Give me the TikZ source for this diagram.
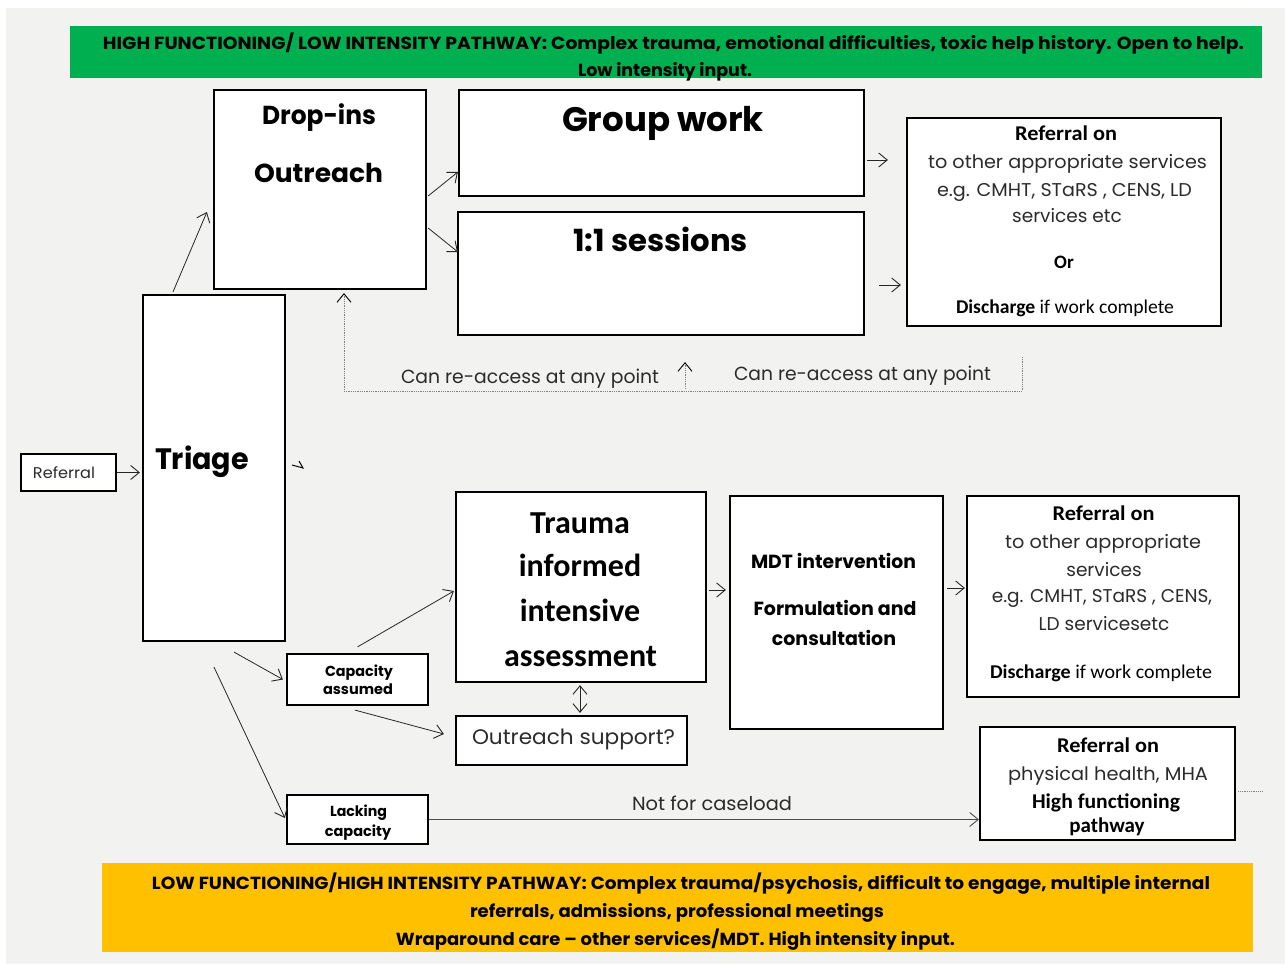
\documentclass[tikz,border=0pt]{standalone}
\usepackage{fontspec}
\usepackage{graphicx}
\setmainfont{Poppins}
\newfontfamily\calib{Carlito}
\usetikzlibrary{arrows.meta,calc}
\definecolor{bggrey}{HTML}{F2F2F0}
\definecolor{hfgreen}{HTML}{00B050}
\definecolor{lfyellow}{HTML}{FFC000}
\definecolor{txtgrey}{HTML}{2B2B2B}
\newcommand{\fitw}[2]{\resizebox{#1}{\height}{#2}}
\newcommand{\fs}[1]{\fontsize{#1}{#1}\selectfont}
\begin{document}
\begin{tikzpicture}[x=1pt,y=-1pt,
 box/.style={draw=black, line width=2.2pt, fill=white, inner sep=0pt},
 banner/.style={inner sep=0pt, draw=none},
 txt/.style={inner sep=0pt, anchor=base, text=black},
 reg/.style={txt, text=txtgrey},
 tip/.style={},
 arr/.style={line width=0.8pt, draw=black!85, -{Straight Barb[length=8.5pt,width=14pt,line width=0.9pt]}},
 dblarr/.style={line width=0.8pt, draw=black!85, {Straight Barb[length=8.5pt,width=14pt,line width=0.9pt]}-{Straight Barb[length=8.5pt,width=14pt,line width=0.9pt]}},
 dotline/.style={line width=0.8pt, draw=black!50, dash pattern=on 1pt off 0.8pt},
 dotarr/.style={dotline, -{Straight Barb[length=8.5pt,width=14pt,line width=0.9pt,color=black]}},
]
\path[use as bounding box, fill=white] (0,0) rectangle (1285,965);
\fill[bggrey] (6,8) rectangle (1285,964);

% banners
\node[banner, fill=hfgreen, minimum width=1192pt, minimum height=52pt] (gbanner) at (666,52) {};
\node[banner, fill=lfyellow, minimum width=1151pt, minimum height=89pt] (ybanner) at (677.5,907.5) {};

% boxes
\node[box, minimum width=212pt, minimum height=199pt] (drop) at (320,189.5) {};
\node[box, minimum width=405pt, minimum height=106pt] (group) at (661.5,143) {};
\node[box, minimum width=406pt, minimum height=123pt] (ones) at (661,273.5) {};
\node[box, minimum width=314pt, minimum height=208pt] (ref1) at (1064,222) {};
\node[box, minimum width=142pt, minimum height=346pt] (triage) at (214,468) {};
\node[box, minimum width=95pt, minimum height=37pt] (refl) at (68.5,472.5) {};
\node[box, minimum width=250pt, minimum height=190pt] (trauma) at (581,587) {};
\node[box, minimum width=213pt, minimum height=233pt] (mdt) at (836.5,612.5) {};
\node[box, minimum width=272pt, minimum height=201pt] (ref2) at (1103,596.5) {};
\node[box, minimum width=141pt, minimum height=51pt] (cap) at (357.5,679.5) {};
\node[box, minimum width=231pt, minimum height=49pt] (outr) at (571.5,740.5) {};
\node[box, minimum width=141pt, minimum height=49pt] (lack) at (357.5,819.5) {};
\node[box, minimum width=255pt, minimum height=113pt] (ref3) at (1107.5,783.5) {};

% banner texts
\node[txt, font=\bfseries\fs{17.5}] (g1) at (673.5,50) {\fitw{1141pt}{HIGH FUNCTIONING/ LOW INTENSITY PATHWAY: Complex trauma, emotional difficulties, toxic help history. Open to help.}};
\node[txt, font=\bfseries\fs{17.5}] (g2) at (665,77) {\fitw{174pt}{Low intensity input.}};
\node[txt, font=\bfseries\fs{17.5}] (y1) at (681,889) {\fitw{1058pt}{LOW FUNCTIONING/HIGH INTENSITY PATHWAY: Complex trauma/psychosis, difficult to engage, multiple internal}};
\node[txt, font=\bfseries\fs{17.5}] (y2) at (677,917) {\fitw{414pt}{referrals, admissions, professional meetings}};
\node[txt, font=\bfseries\fs{17.5}] (y3) at (675.5,945) {\fitw{559pt}{Wraparound care -- other services/MDT. High intensity input.}};

% box texts
\node[txt, font=\bfseries\fs{26}] (t-drop) at (319,125) {\fitw{114pt}{Drop-ins}};
\node[txt, font=\bfseries\fs{26}] (t-outreach) at (318.5,183) {\fitw{129pt}{Outreach}};
\node[txt, font=\bfseries\fs{34}] (t-group) at (663,132) {\fitw{202pt}{Group work}};
\node[txt, font=\bfseries\fs{30.5}] (t-ones) at (660.5,252) {\fitw{175pt}{1:1 sessions}};

\node[txt, font=\calib\bfseries\fs{21}] (r1a) at (1066,141) {\fitw{102pt}{Referral on}};
\node[reg, font=\fs{18.5}] (r1b) at (1067.5,169) {\fitw{279pt}{to other appropriate services}};
\node[reg, font=\fs{18.5}] (r1c) at (1064.5,197) {\fitw{255pt}{e.g. CMHT, STaRS , CENS, LD}};
\node[reg, font=\fs{18.5}] (r1d) at (1067,223) {services etc};
\node[txt, font=\calib\bfseries\fs{19}] (r1e) at (1064,269) {Or};
\node[txt, font=\calib\fs{19.5}] (r1f) at (1065,314) {\fitw{218pt}{\textbf{Discharge} if work complete}};

\node[txt, font=\bfseries\fs{29.5}] (t-triage) at (202,469) {\fitw{94pt}{Triage}};
\node[reg, font=\fs{15.5}] (t-refl) at (64,478) {\fitw{62pt}{Referral}};

\node[reg, font=\fs{19}] (ra1) at (530,384) {\fitw{258pt}{Can re-access at any point}};
\node[reg, font=\fs{19}] (ra2) at (862.5,381) {\fitw{257pt}{Can re-access at any point}};

\node[txt, font=\calib\bfseries\fs{32}] (tr1) at (580,533) {Trauma};
\node[txt, font=\calib\bfseries\fs{32}] (tr2) at (580,576) {informed};
\node[txt, font=\calib\bfseries\fs{32}] (tr3) at (580,621) {intensive};
\node[txt, font=\calib\bfseries\fs{32}] (tr4) at (580.5,666) {\fitw{153pt}{assessment}};

\node[txt, font=\bfseries\fs{19}] (m1) at (833.5,568) {\fitw{165pt}{MDT intervention}};
\node[txt, font=\bfseries\fs{19}] (m2) at (835,615) {Formulation and};
\node[txt, font=\bfseries\fs{19}] (m3) at (834,645) {consultation};

\node[txt, font=\calib\bfseries\fs{21}] (r2a) at (1103.5,520) {\fitw{102pt}{Referral on}};
\node[reg, font=\fs{18.5}] (r2b) at (1103,548) {\fitw{196pt}{to other appropriate}};
\node[reg, font=\fs{18.5}] (r2c) at (1104,576) {services};
\node[reg, font=\fs{18.5}] (r2d) at (1102,602) {e.g. CMHT, STaRS , CENS,};
\node[reg, font=\fs{18.5}] (r2e) at (1104,630) {LD servicesetc};
\node[txt, font=\calib\fs{19.5}] (r2f) at (1101,678) {\fitw{222pt}{\textbf{Discharge} if work complete}};

\node[txt, font=\bfseries\fs{14.5}] (c1) at (359,676) {\fitw{68pt}{Capacity}};
\node[txt, font=\bfseries\fs{14.5}] (c2) at (358,694) {assumed};
\node[txt, font=\bfseries\fs{14.5}] (l1) at (358.5,816) {\fitw{57pt}{Lacking}};
\node[txt, font=\bfseries\fs{14.5}] (l2) at (358,836) {capacity};

\node[reg, font=\fs{21}] (t-outr) at (573.5,744) {\fitw{203pt}{Outreach support?}};
\node[reg, font=\fs{19}] (nfc) at (712,810) {\fitw{160pt}{Not for caseload}};

\node[txt, font=\calib\bfseries\fs{21}] (r3a) at (1108,752) {\fitw{102pt}{Referral on}};
\node[reg, font=\fs{18.5}] (r3b) at (1108,780) {\fitw{200pt}{physical health, MHA}};
\node[txt, font=\calib\bfseries\fs{21}] (r3c) at (1106,808) {\fitw{148pt}{High functioning}};
\node[txt, font=\calib\bfseries\fs{21}] (r3d) at (1107,832) {pathway};

% connectors
\draw[arr] (refl.east) -- ($(refl.east -| triage.west)+(-2,0)$);
\draw[arr] ($(triage.north)+(-41,-2)$) -- ($(drop.west)+(-6,22.5)$);
\draw[arr] ($(drop.east)+(1,6.5)$) -- ($(group.west)+(0,29)$);
\draw[arr] ($(drop.east)+(1,38.5)$) -- ($(ones.west)+(1,-21.5)$);
\draw[arr] ($(group.east)+(2,17)$) -- ($(ref1.west)+(-18,-62)$);
\draw[arr] ($(ones.east)+(14,11.5)$) -- ($(ref1.west)+(-5,63)$);

\coordinate (fbstart) at (1022,357);
\coordinate (fbcorner) at (344,391);
\coordinate (upstart) at (685,389);
\draw[dotarr] (fbstart) |- (fbcorner) -- ($(drop.south)+(24,3)$);
\draw[dotarr] (upstart) -- ($(ones.south)+(24,26)$);

\draw[arr] ($(triage.south)+(20,10)$) -- ($(cap.west)+(-3,0)$);
\draw[arr] ($(cap.north)+(0,-6)$) -- ($(trauma.west)+(-1,4)$);
\draw[arr] ($(cap.south)+(-2.5,4)$) -- ($(outr.west)+(-11,-6.5)$);
\draw[arr] ($(triage.south)+(0,25)$) -- ($(lack.west)+(-1,-1.5)$);
\draw[dblarr] ($(trauma.south)+(-1,2)$) -- ($(trauma.south |- outr.north)+(-1,-2)$);
\draw[arr] ($(trauma.east)+(2,3)$) -- ($(trauma.east -| mdt.west)+(-3,3)$);
\draw[arr] ($(mdt.east)+(3,-24.5)$) -- ($(mdt.east -| ref2.west)+(-1,-24.5)$);
\draw[arr, draw=black!70] (lack.east) -- (lack.east -| ref3.west);

\coordinate (hfend) at (1263,791);
\draw[dotline] ($(ref3.east)+(2,7.5)$) -- (hfend);

% small mark beside triage
\draw[line width=1pt, line join=miter] (299,461) -- (303,468) -- (292,465);
\end{tikzpicture}
\end{document}
